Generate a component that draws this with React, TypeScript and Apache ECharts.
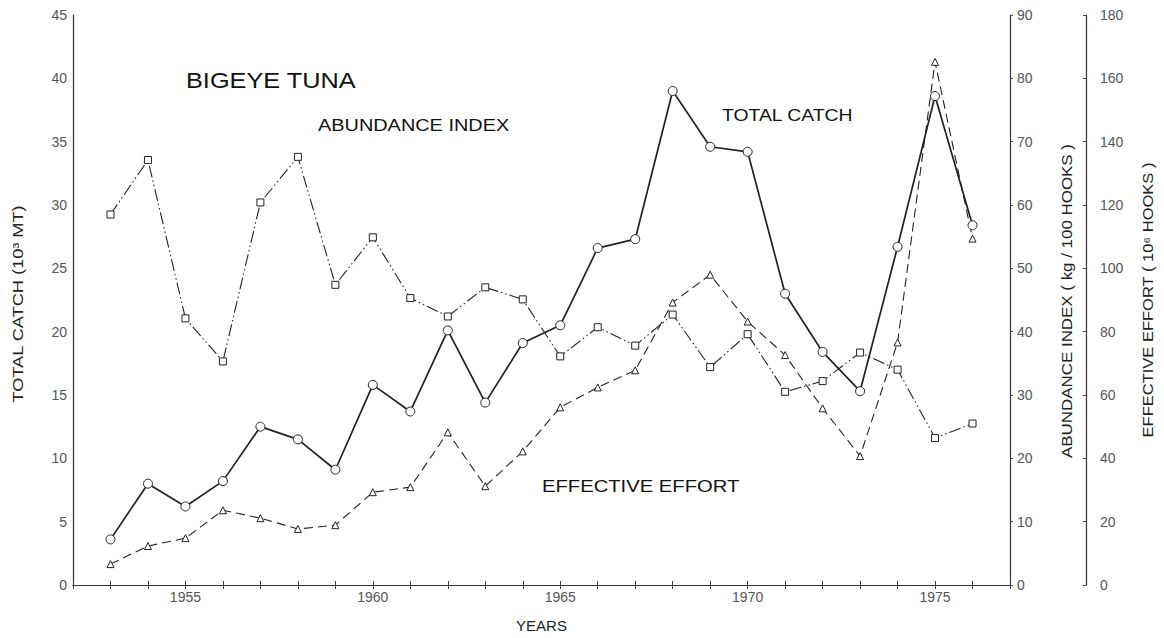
import React, { useEffect, useRef } from "react";
import * as echarts from "echarts";

const years = [1953, 1954, 1955, 1956, 1957, 1958, 1959, 1960, 1961, 1962, 1963, 1964, 1965, 1966, 1967, 1968, 1969, 1970, 1971, 1972, 1973, 1974, 1975, 1976];
const totalCatch = [3.6, 8.0, 6.2, 8.2, 12.5, 11.5, 9.1, 15.8, 13.7, 20.1, 14.4, 19.1, 20.5, 26.6, 27.3, 39.0, 34.6, 34.2, 23.0, 18.4, 15.3, 26.7, 38.6, 28.4];
const abundanceIndex = [58.5, 67.1, 42.1, 35.3, 60.4, 67.6, 47.4, 54.9, 45.3, 42.4, 47.0, 45.1, 36.1, 40.7, 37.8, 42.7, 34.4, 39.6, 30.5, 32.2, 36.7, 34.0, 23.2, 25.5];
const effectiveEffort = [6.6, 12.3, 14.8, 23.6, 21.1, 17.7, 18.9, 29.3, 30.9, 48.2, 31.2, 42.2, 56.1, 62.4, 67.8, 89.2, 98.0, 83.2, 72.6, 55.8, 40.7, 76.6, 165.2, 109.4];
const xTickLabels = [1955, 1960, 1965, 1970, 1975];

const FONT = "'Liberation Sans', Arial, sans-serif";
const INK = "#222";
const LABEL = "#555";

export default function App() {
  const ref = useRef<HTMLDivElement>(null);
  useEffect(() => {
    document.body.style.margin = "0";
    const chart = echarts.init(ref.current!, null, { renderer: "svg" });
    const pairs = (vals: number[]) => years.map((y, i) => [y, vals[i]]);
    const axisLine = { show: true, lineStyle: { color: "#333", width: 1.2 } };
    const labelStyle = { color: LABEL, fontSize: 14, fontFamily: FONT };
    const annot = (text: string, x: number, y: number, size: number, sx: number) => ({
      type: "text",
      x,
      y,
      scaleX: sx,
      style: { text, font: `${size}px ${FONT}`, fill: "#111", textAlign: "left", textVerticalAlign: "middle" },
    });
    const vname = (text: string, x: number, y: number, sx: number) => ({
      type: "text",
      x,
      y,
      rotation: Math.PI / 2,
      scaleX: sx,
      style: { text, font: `14px ${FONT}`, fill: "#222", textAlign: "center", textVerticalAlign: "middle" },
    });
    chart.setOption({
      animation: false,
      backgroundColor: "#fff",
      grid: { left: 73, right: 154, top: 15, bottom: 52 },
      xAxis: [
        {
          type: "value",
          min: 1952,
          max: 1977,
          interval: 1,
          position: "bottom",
          name: "YEARS",
          nameLocation: "middle",
          nameGap: 33,
          nameTextStyle: { color: "#222", fontSize: 15, fontFamily: FONT },
          axisLine,
          axisTick: { show: true, inside: true, length: 4, lineStyle: { color: "#444" } },
          axisLabel: {
            ...labelStyle,
            margin: 5,
            formatter: (v: number) => (xTickLabels.includes(v) ? String(v) : ""),
          },
          splitLine: { show: false },
        },
        {
          type: "value",
          min: 1952,
          max: 1977,
          interval: 1,
          position: "top",
          axisLine,
          axisTick: { show: true, inside: true, length: 4, lineStyle: { color: "#444" } },
          axisLabel: { show: false },
          splitLine: { show: false },
        },
      ],
      yAxis: [
        {
          type: "value",
          min: 0,
          max: 45,
          interval: 5,
          position: "left",
          axisLine,
          axisTick: { show: false },
          axisLabel: { ...labelStyle, margin: 6 },
          splitLine: { show: false },
        },
        {
          type: "value",
          min: 0,
          max: 90,
          interval: 10,
          position: "right",
          axisLine,
          axisTick: { show: true, length: 3, lineStyle: { color: "#444" } },
          axisLabel: { ...labelStyle, margin: 7 },
          splitLine: { show: false },
        },
        {
          type: "value",
          min: 0,
          max: 180,
          interval: 20,
          position: "right",
          offset: 76,
          axisLine,
          axisTick: { show: true, inside: true, length: 3, lineStyle: { color: "#444" } },
          axisLabel: { ...labelStyle, margin: 14 },
          splitLine: { show: false },
        },
      ],
      series: [
        {
          name: "Effective effort",
          type: "line",
          yAxisIndex: 2,
          data: pairs(effectiveEffort),
          symbol: "triangle",
          symbolSize: 7,
          itemStyle: { color: "#fff", borderColor: INK, borderWidth: 1 },
          lineStyle: { color: INK, width: 1.1, type: [9, 5] },
          z: 2,
        },
        {
          name: "Abundance index",
          type: "line",
          yAxisIndex: 1,
          data: pairs(abundanceIndex),
          symbol: "rect",
          symbolSize: 7,
          itemStyle: { color: "#fff", borderColor: INK, borderWidth: 1 },
          lineStyle: { color: INK, width: 1.1, type: [12, 3, 1.5, 3, 1.5, 3] },
          z: 3,
        },
        {
          name: "Total catch",
          type: "line",
          yAxisIndex: 0,
          data: pairs(totalCatch),
          symbol: "circle",
          symbolSize: 9,
          itemStyle: { color: "#fff", borderColor: INK, borderWidth: 1 },
          lineStyle: { color: INK, width: 1.7 },
          z: 4,
        },
      ],
      graphic: [
        annot("BIGEYE TUNA", 186, 81, 22, 1.15),
        annot("ABUNDANCE INDEX", 318, 125, 17, 1.17),
        annot("TOTAL CATCH", 722, 115, 17, 1.14),
        annot("EFFECTIVE EFFORT", 542, 486, 17, 1.19),
        vname("TOTAL CATCH (10³ MT)", 18, 304, 1.3),
        vname("ABUNDANCE INDEX ( kg / 100 HOOKS )", 1067, 301, 1.21),
        vname("EFFECTIVE EFFORT ( 10⁶ HOOKS )", 1148, 300, 1.18),
      ],
    });
    return () => chart.dispose();
  }, []);
  return <div ref={ref} style={{ width: 1164, height: 638 }} />;
}
